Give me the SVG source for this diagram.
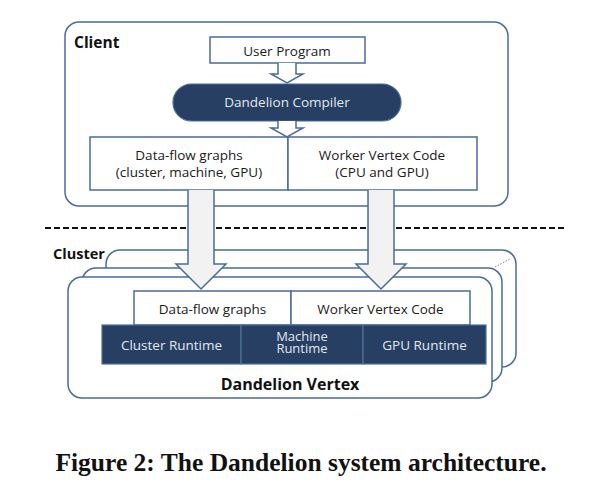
<svg xmlns="http://www.w3.org/2000/svg" width="599" height="495" viewBox="0 0 599 495">
<style>
.box{fill:#fff;stroke:#4a6b9a;stroke-width:1.5}
.dark{fill:#263f62;stroke:#4f6f98;stroke-width:1.2}
.t{font-family:"Open Sans","Liberation Sans",sans-serif;font-size:13.5px;fill:#1a1a1a;text-anchor:middle}
.tw{font-family:"Open Sans","Liberation Sans",sans-serif;font-size:13.5px;fill:#e4e8ef;text-anchor:middle}
.tb{font-family:"Open Sans","Liberation Sans",sans-serif;font-size:15px;font-weight:bold;fill:#111}
.hollow{fill:#fff;stroke:#4a6b9a;stroke-width:1.5;stroke-linejoin:miter}
.grey{fill:#f2f2f2;stroke:#4a6b9a;stroke-width:1.5}
</style>
<rect width="599" height="495" fill="#fff"/>
<g id="client">
<rect class="box" x="65" y="22" width="443" height="184" rx="14"/>
<text class="tb" x="74" y="48" style="font-size:15.5px">Client</text>
</g>
<g id="user-program">
<rect class="box" x="210" y="37" width="155" height="26"/>
<text class="t" x="287" y="56">User Program</text>
</g>
<g id="compiler">
<rect x="173" y="84" width="228" height="37" rx="18.5" fill="#263f62" stroke="#4a6b9a" stroke-width="1.2"/>
<text class="tw" x="287" y="107">Dandelion Compiler</text>
</g>
<g id="dataflow-client">
<rect class="box" x="90" y="137" width="198" height="53"/>
<text class="t" x="189" y="160">Data-flow graphs</text>
<text class="t" x="189" y="177">(cluster, machine, GPU)</text>
</g>
<g id="worker-client">
<rect class="box" x="288" y="137" width="189" height="53"/>
<text class="t" x="382" y="160">Worker Vertex Code</text>
<text class="t" x="382" y="177">(CPU and GPU)</text>
</g>
<line x1="45" y1="228" x2="566" y2="228" stroke="#111" stroke-width="2" stroke-dasharray="6,3"/>
<g id="cluster">
<text class="tb" x="53" y="259" style="font-size:14.5px">Cluster</text>
<rect class="box" x="106" y="250" width="410" height="117" rx="14"/>
<rect class="box" x="82" y="268" width="420" height="114" rx="14"/>
<line x1="495" y1="267" x2="510" y2="259" stroke="#888" stroke-width="1" stroke-dasharray="1.5,1.5"/>
</g>
<g id="dandelion-vertex">
<rect class="box" x="68" y="277" width="424" height="121" rx="14"/>
<text class="tb" x="290" y="390" text-anchor="middle" style="font-size:16px">Dandelion Vertex</text>
</g>
<g id="dataflow-vertex">
<rect class="box" x="134" y="291" width="157" height="34"/>
<text class="t" x="212.5" y="314">Data-flow graphs</text>
</g>
<g id="worker-vertex">
<rect class="box" x="291" y="291" width="179" height="34"/>
<text class="t" x="380.5" y="314">Worker Vertex Code</text>
</g>
<g id="cluster-runtime">
<rect class="dark" x="102" y="325" width="139" height="39"/>
<text class="tw" x="171.5" y="350">Cluster Runtime</text>
</g>
<g id="machine-runtime">
<rect class="dark" x="241" y="325" width="122" height="39"/>
<text class="tw" style="font-size:13px" x="302" y="341">Machine<tspan x="302" dy="11.5">Runtime</tspan></text>
</g>
<g id="gpu-runtime">
<rect class="dark" x="363" y="325" width="123" height="39"/>
<text class="tw" x="424.5" y="350">GPU Runtime</text>
</g>
<g id="connectors">
<path class="hollow" d="M278,63 V74 H271 L287,83 L303,74 H296 V63"/>
<path class="hollow" d="M278,121 V128 H271 L287,137 L303,128 H296 V121"/>
<path class="grey" d="M188,190 V264 H176 L201,289 L226,264 H214 V190"/>
<path class="grey" d="M368,190 V264 H356 L381,289 L406,264 H394 V190"/>
</g>
<text x="301" y="471" text-anchor="middle" style="font-family:'Liberation Serif',serif;font-size:25.5px;font-weight:bold;fill:#111">Figure 2: The Dandelion system architecture.</text>
</svg>
